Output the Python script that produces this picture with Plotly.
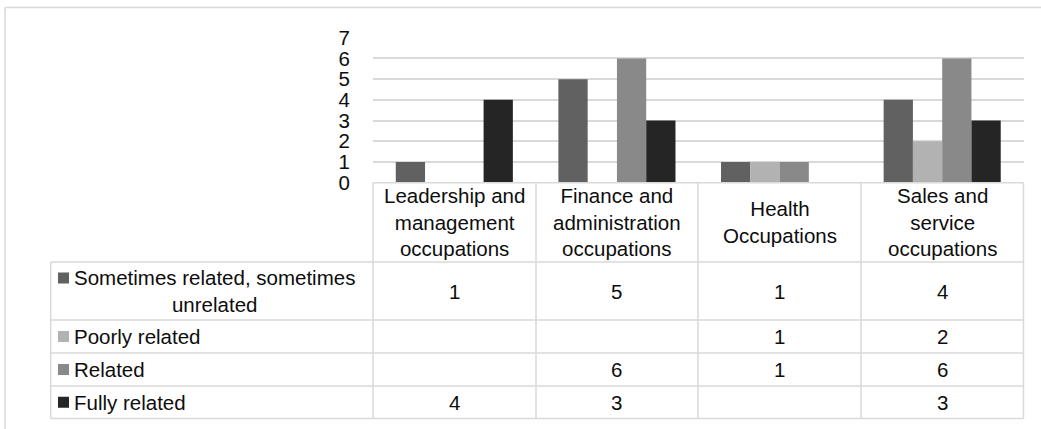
import plotly.graph_objects as go

# Occupation categories (header row of the data table)
categories = [
    "Leadership and<br>management<br>occupations",
    "Finance and<br>administration<br>occupations",
    "Health<br>Occupations",
    "Sales and<br>service<br>occupations",
]

# Series (None = no response in that category)
series_names = [
    "Sometimes related, sometimes<br>unrelated",
    "Poorly related",
    "Related",
    "Fully related",
]
sometimes_related = [1, 5, 1, 4]
poorly_related = [None, None, 1, 2]
related = [None, 6, 1, 6]
fully_related = [4, 3, None, 3]
series_values = [sometimes_related, poorly_related, related, fully_related]
series_colors = ["#616161", "#b2b2b2", "#898989", "#252525"]

y_ticks = [0, 1, 2, 3, 4, 5, 6, 7]

W, H = 1041, 429
FONT = "Liberation Sans, Arial, sans-serif"
TXT = "#0d0d0d"
GRID = "#d9d9d9"
FS = 20.5


def px(x):
    return x / W


def py(y):
    return 1 - y / H


# Pixel layout of the chart / table
plot_l, plot_r = 373, 1023.5
base_y, top_y = 182.7, 37.7
tab_l = 50.7
row_lines = [262, 320, 353, 386, 418.5]
col_lines = [373, 536, 698, 861, 1023.5]

fig = go.Figure()
for name, vals, col in zip(series_names, series_values, series_colors):
    fig.add_trace(go.Bar(
        x=categories, y=vals, name=name.replace("<br>", " "),
        marker=dict(color=col, line=dict(width=0)),
    ))

shapes = []
line = dict(color=GRID, width=1.5)
# outer chart border
shapes.append(dict(type="line", xref="paper", yref="paper",
                   x0=px(5), x1=px(W + 5), y0=py(7.5), y1=py(7.5), line=line))
shapes.append(dict(type="line", xref="paper", yref="paper",
                   x0=px(5), x1=px(5), y0=py(7.5), y1=py(H + 5), line=line))
# table horizontal rules
shapes.append(dict(type="line", xref="paper", yref="paper",
                   x0=px(plot_l), x1=px(plot_r), y0=py(base_y), y1=py(base_y), line=line))
for ry in row_lines:
    shapes.append(dict(type="line", xref="paper", yref="paper",
                       x0=px(tab_l), x1=px(plot_r), y0=py(ry), y1=py(ry), line=line))
# table vertical rules
shapes.append(dict(type="line", xref="paper", yref="paper",
                   x0=px(tab_l), x1=px(tab_l), y0=py(row_lines[0]), y1=py(row_lines[-1]), line=line))
for cx in col_lines:
    shapes.append(dict(type="line", xref="paper", yref="paper",
                       x0=px(cx), x1=px(cx), y0=py(base_y), y1=py(row_lines[-1]), line=line))

annotations = []
# header row: category names
for cat in categories:
    annotations.append(dict(
        x=cat, xref="x", y=py((base_y + row_lines[0]) / 2), yref="paper",
        text=cat, showarrow=False, align="center",
        font=dict(family=FONT, size=FS, color=TXT),
        xanchor="center", yanchor="middle",
    ))

# series rows: legend key, label and values
for i, (name, vals, col) in enumerate(zip(series_names, series_values, series_colors)):
    r0, r1 = row_lines[i], row_lines[i + 1]
    rc = (r0 + r1) / 2
    two_line = "<br>" in name
    key_c = r0 + 16 if two_line else rc
    shapes.append(dict(type="rect", xref="paper", yref="paper",
                       x0=px(58), x1=px(69), y0=py(key_c - 5.5), y1=py(key_c + 5.5),
                       fillcolor=col, line=dict(width=0)))
    if two_line:
        annotations.append(dict(
            x=px((tab_l + plot_l) / 2 + 3), xref="paper", y=py(rc), yref="paper",
            text=name, showarrow=False, align="center",
            font=dict(family=FONT, size=FS, color=TXT),
            xanchor="center", yanchor="middle",
        ))
    else:
        annotations.append(dict(
            x=px(72), xref="paper", y=py(rc), yref="paper",
            text=name, showarrow=False, align="left",
            font=dict(family=FONT, size=FS, color=TXT),
            xanchor="left", yanchor="middle",
        ))
    for cat, v in zip(categories, vals):
        if v is None:
            continue
        annotations.append(dict(
            x=cat, xref="x", y=py(rc), yref="paper",
            text=str(v), showarrow=False,
            font=dict(family=FONT, size=FS, color=TXT),
            xanchor="center", yanchor="middle",
        ))

fig.update_layout(
    width=W, height=H,
    margin=dict(l=0, r=0, t=0, b=0, pad=0, autoexpand=False),
    paper_bgcolor="white", plot_bgcolor="white",
    barmode="group", bargap=0.28, bargroupgap=0,
    showlegend=False,
    font=dict(family=FONT, size=FS, color=TXT),
    xaxis=dict(domain=[px(plot_l), px(plot_r)], showticklabels=False,
               showgrid=False, zeroline=False, showline=False, fixedrange=True,
               automargin=False),
    yaxis=dict(domain=[py(base_y), py(top_y)], range=[0, 7],
               tickvals=y_ticks, ticktext=[str(t) for t in y_ticks],
               showgrid=True, gridcolor=GRID, gridwidth=1.5,
               zeroline=False, showline=False, ticks="",
               ticklabelstandoff=22, automargin=False,
               tickfont=dict(family=FONT, size=FS, color=TXT)),
    shapes=shapes, annotations=annotations,
)

fig.write_html("out.html", config={"displayModeBar": False})
